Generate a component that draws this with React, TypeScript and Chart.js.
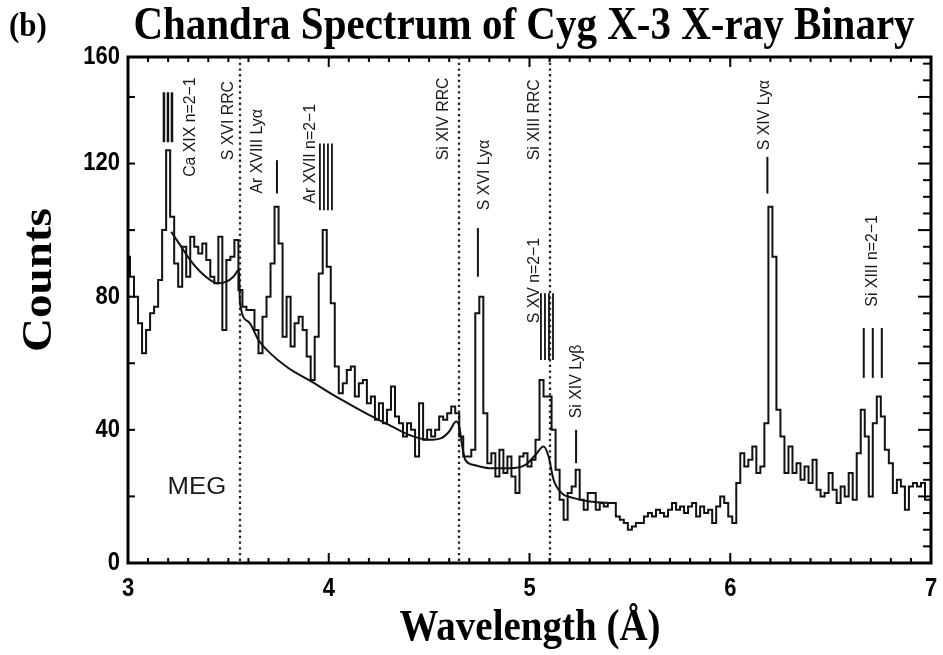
import React, { useEffect, useRef } from "react";
import { Chart, registerables } from "chart.js";

Chart.register(...registerables);

// ---- data ----
const WL_START = 3.0;
const WL_STEP = 0.02;

// MEG counts per 0.02 Å bin, 3.00 .. 7.00 Å
const counts = [
  92, 86, 80, 72, 63, 70, 75, 77, 85, 100,
  124, 104, 90, 83, 95, 86, 98, 95, 93, 96,
  91, 86, 84, 98, 70, 91, 92, 97, 82, 77,
  76, 76, 70, 63, 74, 80, 90, 107, 96, 68,
  80, 65, 72, 74, 70, 62, 55, 68, 87, 100,
  89, 78, 59, 51, 54, 58, 59, 50, 54, 55,
  48, 50, 43, 48, 42, 46, 53, 44, 42, 38,
  42, 40, 32, 48, 37, 40, 38, 40, 44, 43,
  45, 47, 45, 38, 32, 32, 34, 75, 80, 45,
  30, 33, 26, 34, 27, 32, 26, 21, 32, 33,
  29, 31, 37, 55, 50, 50, 40, 28, 19, 13,
  21, 23, 28, 19, 16, 21, 21, 16, 18, 17,
  18, 18, 14, 13, 12, 10, 11, 12, 12, 14,
  15, 14, 16, 15, 14, 16, 18, 16, 17, 15,
  17, 18, 14, 17, 15, 16, 12, 17, 20, 18,
  14, 12, 24, 33, 29, 31, 35, 27, 29, 42,
  107, 92, 46, 38, 27, 35, 27, 30, 25, 29,
  24, 31, 22, 20, 21, 27, 22, 18, 23, 20,
  27, 19, 33, 46, 38, 20, 42, 50, 44, 34,
  30, 21, 25, 23, 16, 23, 24, 23, 24, 19,
  19,
];
const wavelengths = counts.map((_, i) => +(WL_START + i * WL_STEP).toFixed(2));

// continuum model
const contWl = [
  3.215, 3.26, 3.31, 3.36, 3.41, 3.45, 3.49, 3.525, 3.553, 3.558,
  3.6, 3.65, 3.7, 3.8, 3.9, 4.05, 4.2, 4.3, 4.4, 4.5,
  4.56, 4.6, 4.635, 4.65, 4.665, 4.68, 4.72, 4.8, 4.9, 4.98,
  5.03, 5.07, 5.095, 5.12, 5.16, 5.22, 5.3, 5.42,
];
const contCounts = [
  99.5, 95.5, 91, 87.5, 85, 84, 84.5, 86, 88, 78,
  72.5, 67, 63.5, 58.5, 55, 49.5, 44.5, 41.5, 38.5, 37,
  37.5, 39.5, 42.5, 41, 35, 31, 29.5, 28.5, 28.5, 29.5,
  32.5, 35, 32, 25, 21, 19.5, 18.5, 18,
];

// radiative recombination continuum edges (dotted lines)
const rrcEdges = [3.557, 4.648, 5.1];

const xTickValues = [3, 4, 5, 6, 7];
const xTickLabels = ["3", "4", "5", "6", "7"];
const yTickValues = [0, 40, 80, 120, 152];
const yTickLabels = ["0", "40", "80", "120", "160"];

// line identification labels: text, wavelength of the label, count at text start
const lineLabels = [
  { text: "Ca XIX n=2\u22121", wl: 3.309, c: 116 },
  { text: "S XVI RRC", wl: 3.498, c: 121 },
  { text: "Ar XVIII Ly\u03b1", wl: 3.647, c: 111 },
  { text: "Ar XVII n=2\u22121", wl: 3.911, c: 108 },
  { text: "Si XIV RRC", wl: 4.569, c: 121 },
  { text: "S XVI Ly\u03b1", wl: 4.778, c: 106 },
  { text: "Si XIII RRC", wl: 5.027, c: 121 },
  { text: "S XV n=2\u22121", wl: 5.027, c: 72 },
  { text: "Si XIV Ly\u03b2", wl: 5.236, c: 43.5 },
  { text: "S XIV Ly\u03b1", wl: 6.172, c: 124 },
  { text: "Si XIII n=2\u22121", wl: 6.71, c: 77 },
];

// line markers: wavelengths, count range
const lineMarkers = [
  { wls: [3.179, 3.199, 3.219], lo: 126.4, hi: 141.4, w: 2.5 },
  { wls: [3.742], lo: 111, hi: 121, w: 2 },
  { wls: [3.956, 3.976, 3.996, 4.016], lo: 106, hi: 126, w: 1.8 },
  { wls: [4.743], lo: 86, hi: 100.6, w: 2 },
  { wls: [5.057, 5.077, 5.097, 5.117], lo: 61, hi: 81, w: 1.8 },
  { wls: [5.232], lo: 30, hi: 40, w: 2 },
  { wls: [6.185], lo: 111, hi: 122, w: 2 },
  { wls: [6.665, 6.71, 6.755], lo: 55.6, hi: 70.6, w: 2 },
];

const titleText = "Chandra Spectrum of Cyg X-3 X-ray Binary";
const panelText = "(b)";
const xTitle = "Wavelength (\u00c5)";
const yTitle = "Counts";
const instrText = "MEG";

function drawText(
  ctx: CanvasRenderingContext2D,
  text: string,
  x: number,
  y: number,
  font: string,
  align: CanvasTextAlign,
  sx: number,
  sy: number,
  rot = 0,
  color = "#000"
) {
  ctx.save();
  ctx.translate(x, y);
  if (rot) ctx.rotate(rot);
  ctx.scale(sx, sy);
  ctx.font = font;
  ctx.fillStyle = color;
  ctx.textAlign = align;
  ctx.textBaseline = "middle";
  ctx.fillText(text, 0, 0);
  ctx.restore();
}

const decorPlugin = {
  id: "decor",
  beforeDatasetsDraw(chart: any) {
    const { ctx, chartArea: a, scales } = chart;
    const xs = scales.x;
    ctx.save();
    ctx.strokeStyle = "#222";
    ctx.lineWidth = 2.3;
    ctx.setLineDash([2.3, 3.4]);
    rrcEdges.forEach((wl) => {
      const px = Math.round(xs.getPixelForValue(wl));
      ctx.beginPath();
      ctx.moveTo(px, a.top);
      ctx.lineTo(px, a.bottom);
      ctx.stroke();
    });
    ctx.restore();
  },
  afterDatasetsDraw(chart: any) {
    const { ctx, chartArea: a, scales } = chart;
    const xs = scales.x;
    const ys = scales.y;
    ctx.save();
    // markers
    ctx.strokeStyle = "#111";
    lineMarkers.forEach((m) => {
      ctx.lineWidth = m.w;
      m.wls.forEach((wl) => {
        const px = xs.getPixelForValue(wl);
        ctx.beginPath();
        ctx.moveTo(px, ys.getPixelForValue(m.lo));
        ctx.lineTo(px, ys.getPixelForValue(m.hi));
        ctx.stroke();
      });
    });
    // labels
    lineLabels.forEach((l) => {
      drawText(
        ctx,
        l.text,
        xs.getPixelForValue(l.wl),
        ys.getPixelForValue(l.c),
        "16.5px 'Liberation Sans', Arial, sans-serif",
        "left",
        0.96,
        1,
        -Math.PI / 2,
        "#1a1a1a"
      );
    });
    drawText(
      ctx,
      instrText,
      xs.getPixelForValue(3.343),
      ys.getPixelForValue(22.5),
      "23px 'Liberation Sans', Arial, sans-serif",
      "center",
      1.12,
      1,
      0,
      "#1a1a1a"
    );
    // ticks
    ctx.strokeStyle = "#000";
    ctx.lineWidth = 2;
    for (let i = 1; i < 40; i++) {
      const wl = 3 + i * 0.1;
      const px = xs.getPixelForValue(wl);
      const len = i % 10 === 0 ? 10 : 5;
      ctx.beginPath();
      ctx.moveTo(px, a.bottom);
      ctx.lineTo(px, a.bottom - len);
      ctx.moveTo(px, a.top);
      ctx.lineTo(px, a.top + len);
      ctx.stroke();
    }
    for (let v = 20; v < 152; v += 20) {
      const py = ys.getPixelForValue(v);
      ctx.beginPath();
      ctx.moveTo(a.left, py);
      ctx.lineTo(a.left + 7, py);
      ctx.stroke();
    }
    for (let v = 5; v < 152; v += 5) {
      const py = ys.getPixelForValue(v);
      const len = v % 20 === 0 ? 13 : 8;
      ctx.beginPath();
      ctx.moveTo(a.right, py);
      ctx.lineTo(a.right - len, py);
      ctx.stroke();
    }
    // frame
    ctx.lineWidth = 3;
    ctx.strokeRect(a.left, a.top, a.right - a.left, a.bottom - a.top);
    ctx.restore();
  },
  afterDraw(chart: any) {
    const { ctx, chartArea: a, scales } = chart;
    const xs = scales.x;
    const ys = scales.y;
    // tick labels
    xTickValues.forEach((v, i) => {
      drawText(ctx, xTickLabels[i], xs.getPixelForValue(v), 589,
        "bold 22px 'Liberation Sans', Arial, sans-serif", "center", 1, 1.15);
    });
    yTickValues.forEach((v, i) => {
      drawText(ctx, yTickLabels[i], a.left - 8, ys.getPixelForValue(v),
        "bold 22px 'Liberation Sans', Arial, sans-serif", "right", 1, 1.15);
    });
    // titles
    drawText(ctx, titleText, 524, 27, "bold 41px 'Liberation Serif', 'Times New Roman', serif", "center", 1, 1.14);
    drawText(ctx, panelText, 9, 27, "bold 31px 'Liberation Serif', 'Times New Roman', serif", "left", 1, 1.12);
    drawText(ctx, xTitle, 530, 629, "bold 39px 'Liberation Serif', 'Times New Roman', serif", "center", 1, 1.12);
    drawText(ctx, yTitle, 40, 280, "bold 42px 'Liberation Serif', 'Times New Roman', serif", "center", 1.12, 1, -Math.PI / 2);
  },
};

export default function App() {
  const ref = useRef<HTMLCanvasElement | null>(null);
  useEffect(() => {
    if (!ref.current) return;
    const chart = new Chart(ref.current, {
      type: "line",
      data: {
        datasets: [
          {
            label: "MEG spectrum",
            data: wavelengths.map((w, i) => ({ x: w, y: counts[i] })),
            stepped: "middle",
            borderColor: "#111",
            borderWidth: 2,
            pointRadius: 0,
            fill: false,
          },
          {
            label: "Continuum",
            data: contWl.map((w, i) => ({ x: w, y: contCounts[i] })),
            borderColor: "#111",
            borderWidth: 2,
            pointRadius: 0,
            cubicInterpolationMode: "monotone",
            fill: false,
          },
        ],
      },
      options: {
        animation: false,
        responsive: true,
        maintainAspectRatio: false,
        layout: { padding: { top: 57, right: 12, left: 0, bottom: 0 } },
        plugins: { legend: { display: false }, tooltip: { enabled: false }, title: { display: false } },
        scales: {
          x: {
            type: "linear",
            min: 3,
            max: 7,
            grid: { display: false },
            border: { display: false },
            ticks: { display: false },
            afterFit: (s: any) => { s.height = 92; },
          },
          y: {
            min: 0,
            max: 152,
            grid: { display: false },
            border: { display: false },
            ticks: { display: false },
            afterFit: (s: any) => { s.width = 128; },
          },
        },
      },
      plugins: [decorPlugin],
    } as any);
    return () => chart.destroy();
  }, []);
  return (
    <div style={{ position: "fixed", left: 0, top: 0, width: 943, height: 655, background: "#fff" }}>
      <canvas ref={ref} />
    </div>
  );
}
